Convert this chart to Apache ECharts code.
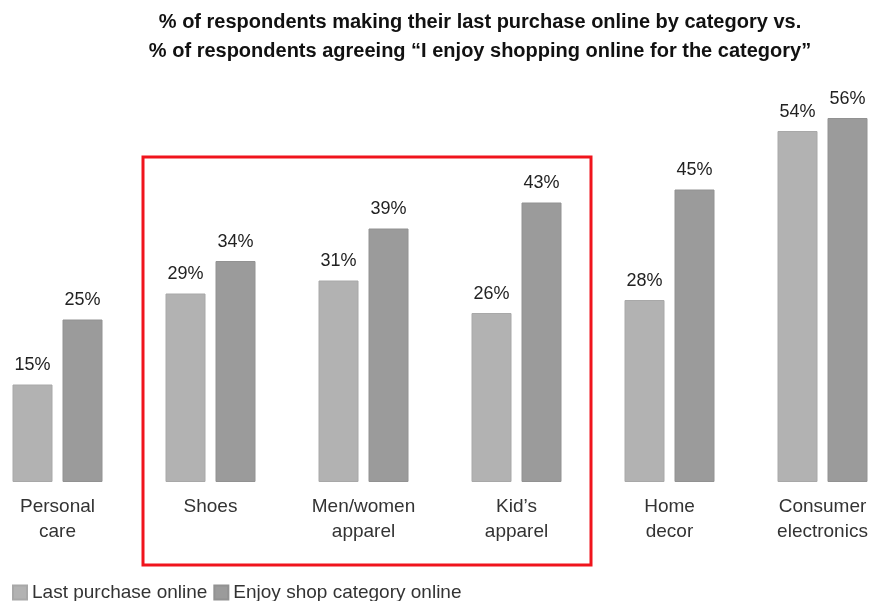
<!DOCTYPE html>
<html>
<head>
<meta charset="utf-8">
<script src="https://cdn.jsdelivr.net/npm/echarts@6/dist/echarts.min.js"></script>
<style>
  html, body { margin: 0; padding: 0; background: #fff; overflow: hidden; }
  /* the plot is a little wider than the page so that the outer groups sit near the edges */
  #chart { width: 918px; height: 601px; margin-left: -19px; }
</style>
</head>
<body>
<div id="chart"></div>
<script>
// Categories and values (percent of respondents)
var categories = ['Personal\ncare', 'Shoes', 'Men/women\napparel', 'Kid\u2019s\napparel', 'Home\ndecor', 'Consumer\nelectronics'];
var lastPurchaseOnline = [15, 29, 31, 26, 28, 54];
var enjoyShopOnline = [25, 34, 39, 43, 45, 56];
var seriesNames = ['Last purchase online', 'Enjoy shop category online'];
var titleText = '% of respondents making their last purchase online by category vs.\n% of respondents agreeing \u201cI enjoy shopping online for the category\u201d';

var FONT = '"Liberation Sans", Arial, Helvetica, sans-serif';
var SHIFT = 19; // horizontal offset of the chart div inside the page
var chart = echarts.init(document.getElementById('chart'), null, { renderer: 'canvas' });

var valueLabel = {
  show: true,
  position: 'top',
  distance: 10,
  formatter: '{c}%',
  color: '#222',
  fontFamily: FONT,
  fontSize: 18
};

chart.setOption({
  animation: false,
  backgroundColor: '#ffffff',
  title: {
    text: titleText,
    left: 480 + SHIFT,
    top: 8,
    padding: 0,
    textAlign: 'center',
    textStyle: {
      fontFamily: FONT,
      fontWeight: 'bold',
      fontSize: 20,
      lineHeight: 29,
      color: '#111'
    }
  },
  legend: {
    left: 7 + SHIFT,
    top: 578,
    itemWidth: 14,
    itemHeight: 14,
    itemGap: 6,
    icon: 'rect',
    textStyle: { fontFamily: FONT, fontSize: 19, color: '#333' },
    data: seriesNames
  },
  grid: {
    left: 0,
    right: 0,
    top: 92,
    bottom: 119,
    containLabel: false
  },
  xAxis: {
    type: 'category',
    data: categories,
    axisLine: { show: false },
    axisTick: { show: false },
    axisLabel: {
      interval: 0,
      margin: 12,
      fontFamily: FONT,
      fontSize: 19,
      lineHeight: 25,
      color: '#333'
    }
  },
  yAxis: {
    type: 'value',
    min: 0,
    max: 60,
    show: false,
    splitLine: { show: false }
  },
  series: [
    {
      name: seriesNames[0],
      type: 'bar',
      data: lastPurchaseOnline,
      barWidth: 40,
      barGap: '25%',
      itemStyle: { color: '#b2b2b2', borderColor: '#a8a8a8', borderWidth: 1 },
      label: valueLabel
    },
    {
      name: seriesNames[1],
      type: 'bar',
      data: enjoyShopOnline,
      barWidth: 40,
      itemStyle: { color: '#9b9b9b', borderColor: '#929292', borderWidth: 1 },
      label: valueLabel
    }
  ],
  graphic: [
    {
      type: 'rect',
      shape: { x: 143 + SHIFT, y: 157, width: 448, height: 408 },
      style: { fill: 'none', stroke: '#f0141c', lineWidth: 3 },
      z: 10
    }
  ]
});
</script>
</body>
</html>
